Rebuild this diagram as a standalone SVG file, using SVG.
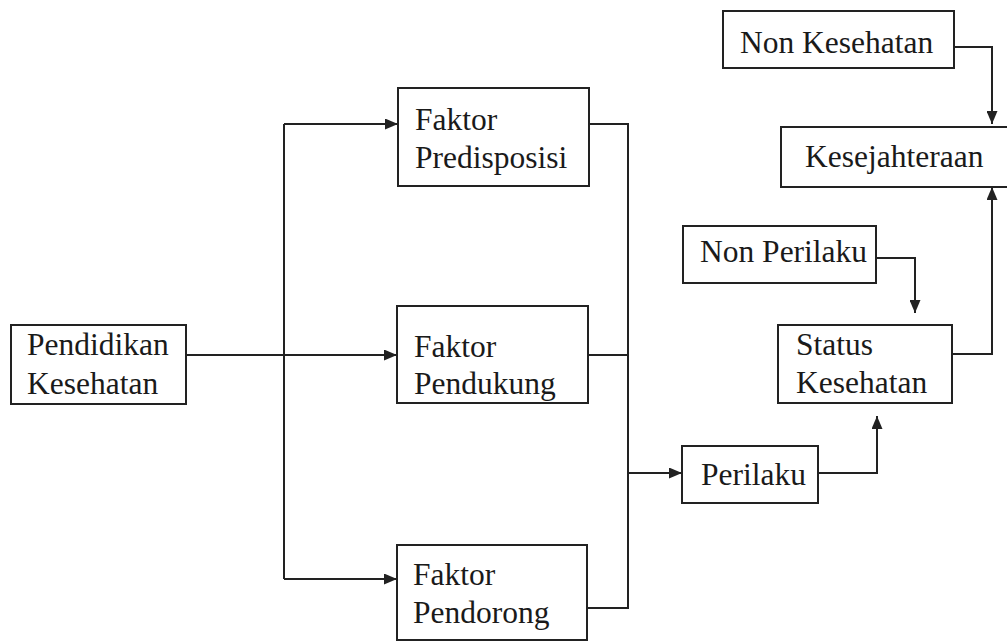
<svg xmlns="http://www.w3.org/2000/svg" width="1007" height="641" viewBox="0 0 1007 641">
<style>
.box{fill:#fff;stroke:#222;stroke-width:2}
.ln{fill:none;stroke:#222;stroke-width:2}
text{font-family:'Liberation Serif',serif;font-size:31.5px;fill:#1a1a1a}
</style>
<defs>
<marker id="ah" viewBox="0 0 13 11" refX="13" refY="5.5" markerWidth="13" markerHeight="11" markerUnits="userSpaceOnUse" orient="auto">
<path d="M0,0 L13,5.5 L0,11 Z" fill="#222"/>
</marker>
</defs>
<rect width="1007" height="641" fill="#fff"/>
<g id="connectors">
<path class="ln" d="M186,355 L397,355" marker-end="url(#ah)"/>
<path class="ln" d="M284,124 L284,579"/>
<path class="ln" d="M284,124 L398,124" marker-end="url(#ah)"/>
<path class="ln" d="M284,579 L397,579" marker-end="url(#ah)"/>
<path class="ln" d="M589,124 L628,124 L628,608 L588,608"/>
<path class="ln" d="M588,355 L628,355"/>
<path class="ln" d="M628,473 L682,473" marker-end="url(#ah)"/>
<path class="ln" d="M818,473 L877,473 L877,416" marker-end="url(#ah)"/>
<path class="ln" d="M876,258 L915,258 L915,313" marker-end="url(#ah)"/>
<path class="ln" d="M952,354 L992,354 L992,187" marker-end="url(#ah)"/>
<path class="ln" d="M954,47 L992,47 L992,124" marker-end="url(#ah)"/>
</g>
<g id="pendidikan">
<rect class="box" x="11" y="325" width="175" height="79"/>
<text x="27" y="355">Pendidikan</text>
<text x="27" y="394">Kesehatan</text>
</g>
<g id="predisposisi">
<rect class="box" x="398" y="88" width="191" height="98"/>
<text x="415" y="130">Faktor</text>
<text x="415" y="168">Predisposisi</text>
</g>
<g id="pendukung">
<rect class="box" x="397" y="306" width="191" height="97"/>
<text x="414" y="357">Faktor</text>
<text x="414" y="394">Pendukung</text>
</g>
<g id="pendorong">
<rect class="box" x="397" y="545" width="190" height="95"/>
<text x="413" y="585">Faktor</text>
<text x="413" y="623">Pendorong</text>
</g>
<g id="perilaku">
<rect class="box" x="682" y="446" width="136" height="57"/>
<text x="701" y="485">Perilaku</text>
</g>
<g id="nonperilaku">
<rect class="box" x="683" y="226" width="193" height="57"/>
<text x="700" y="262">Non Perilaku</text>
</g>
<g id="status">
<rect class="box" x="778" y="325" width="174" height="78"/>
<text x="796" y="355">Status</text>
<text x="796" y="393">Kesehatan</text>
</g>
<g id="nonkesehatan">
<rect class="box" x="723" y="11" width="231" height="57"/>
<text x="740" y="53">Non Kesehatan</text>
</g>
<g id="kesejahteraan">
<rect class="box" x="781" y="127" width="240" height="60"/>
<text x="805" y="167">Kesejahteraan</text>
</g>
</svg>
